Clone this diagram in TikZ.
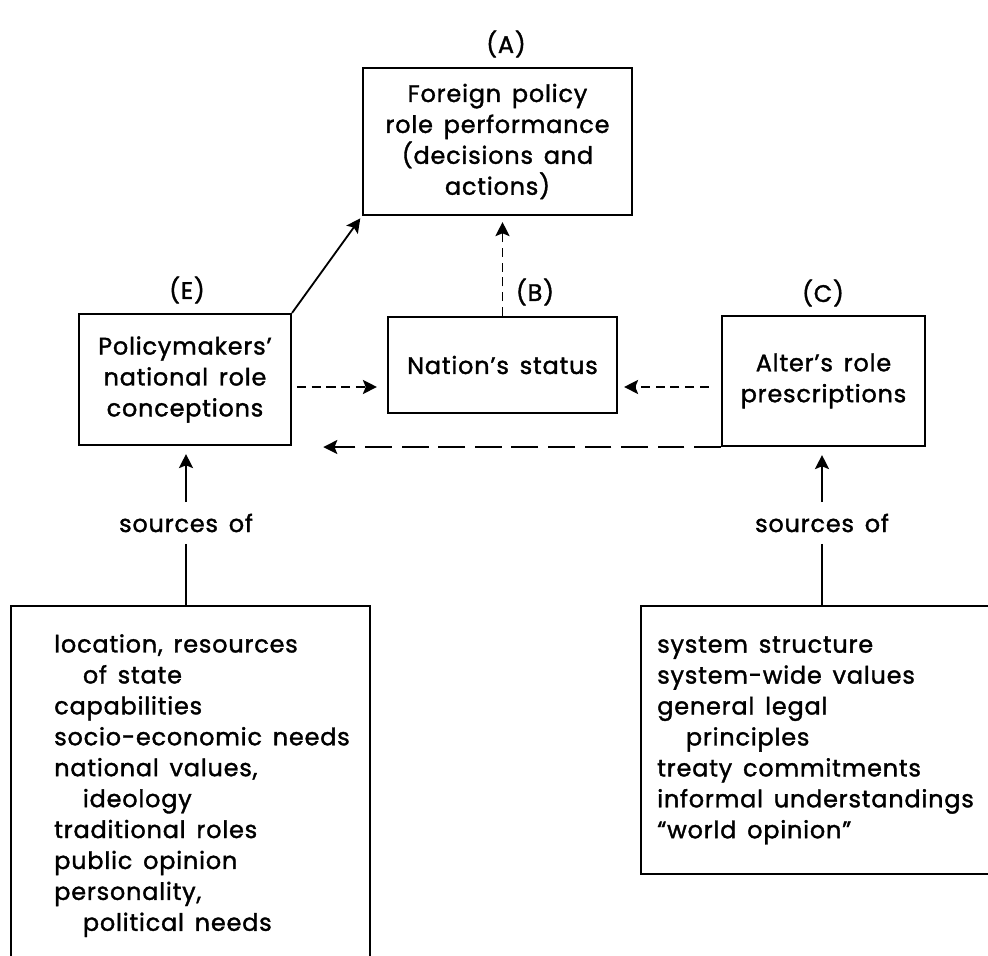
\documentclass[tikz,border=0pt]{standalone}
\usepackage{fontspec}
\setmainfont[WordSpace=1.5,LetterSpace=3.5,FakeBold=1.5]{Poppins}
\usetikzlibrary{arrows.meta,calc}

\begin{document}
\begin{tikzpicture}[
  every node/.style={font=\fontsize{17pt}{22pt}\selectfont},
  box/.style={draw, line width=1.5pt, inner sep=0pt, align=center},
  arr/.style={line width=1.3pt, -{Stealth[length=10pt,width=10pt,inset=2pt]}},
  dsh/.style={arr, dash pattern=on 6.5pt off 4pt},
  longdsh/.style={arr, dash pattern=on 19pt off 7pt},
  list/.style={anchor=north west, align=left, inner sep=0pt},
  ]
  \useasboundingbox (0,0) rectangle (24.7,23.9);
  % boxes
  \node[box, minimum width=6.725cm, minimum height=3.675cm] (A) at (12.4375,20.3625)
    {Foreign policy\\role performance\\(decisions and\\actions)};
  \node[box, minimum width=5.725cm, minimum height=2.4cm] (B) at (12.5625,14.775) {Nation's status};
  \node[box, minimum width=5.075cm, minimum height=3.25cm] (C) at (20.5875,14.375) {Alter's role\\prescriptions};
  \node[box, minimum width=5.3cm, minimum height=3.275cm] (E) at (4.625,14.4125)
    {Policymakers'\\national role\\conceptions};
  \node (labA) at (12.65,22.8) {(A)};
  \node (labB) at (13.375,16.6) {(B)};
  \node (labC) at (20.575,16.575) {(C)};
  \node (labE) at (4.675,16.65) {(E)};
  % arrows between the boxes
  \coordinate (row) at (0,14.225);
  \draw[arr, shorten >=2pt] (E.north east) -- (A.south west);
  \draw[dsh, shorten >=0.15cm] (B.north) -- (B.north |- A.south);
  \draw[dsh, shorten <=0.12cm, shorten >=0.25cm] (E.east |- row) -- (B.west |- row);
  \draw[dsh, shorten <=0.3cm, shorten >=0.15cm] (C.west |- row) -- (B.east |- row);
  \draw[longdsh, shorten >=0.78cm] (C.south west) -- (C.south west -| E.east);
  % sources
  \node[box, anchor=north west, minimum width=8.975cm, minimum height=9.075cm] (Esrc) at (0.25,8.775) {};
  \node[box, anchor=north west, minimum width=9cm, minimum height=6.7cm] (Csrc) at (16,8.775) {};
  \node[list] (Elist) at (1.35,8.05) {location, resources\\\hspace*{1.2em}of state\\capabilities\\socio-economic needs\\national values,\\\hspace*{1.2em}ideology\\traditional roles\\public opinion\\personality,\\\hspace*{1.2em}political needs};
  \node[list] (Clist) at (16.425,8.0) {system structure\\system-wide values\\general legal\\\hspace*{1.2em}principles\\treaty commitments\\informal understandings\\``world opinion''};
  \node[inner ysep=8pt] (srcE) at (4.65,10.825) {sources of};
  \node[inner ysep=8pt] (srcC) at (20.55,10.825) {sources of};
  \draw[arr, shorten >=0.2cm] (srcE.north) -- (srcE.north |- E.south);
  \draw[line width=1.3pt] (srcE.south) -- (srcE.south |- Esrc.north);
  \draw[arr, shorten >=0.2cm] (srcC.north) -- (srcC.north |- C.south);
  \draw[line width=1.3pt] (srcC.south) -- (srcC.south |- Csrc.north);
\end{tikzpicture}
\end{document}
